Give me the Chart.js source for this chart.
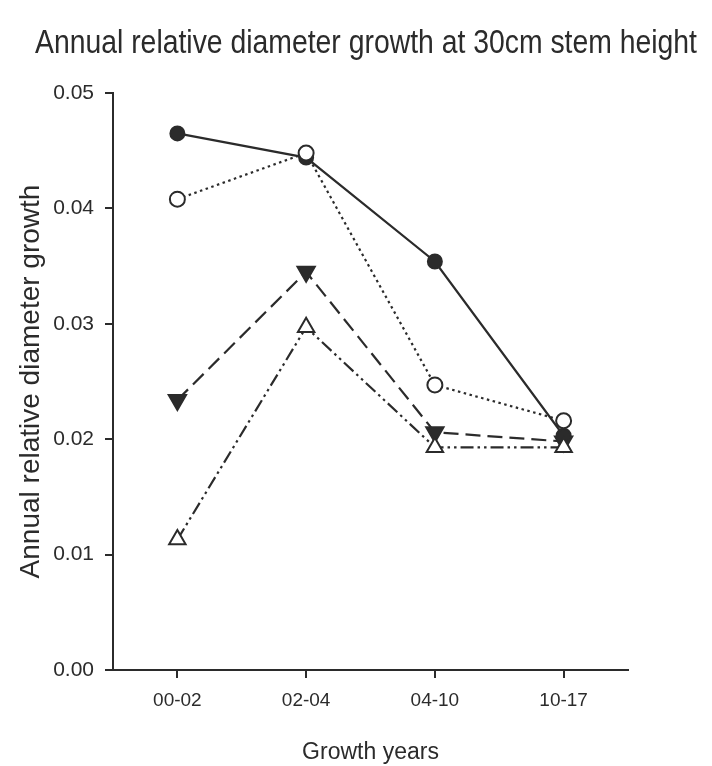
<!DOCTYPE html>
<html>
<head>
<meta charset="utf-8">
<title>Annual relative diameter growth</title>
<script src="https://cdn.jsdelivr.net/npm/chart.js@4.4.1/dist/chart.umd.min.js"></script>
<style>
  html, body { margin: 0; padding: 0; background: #ffffff; }
  #c { display: block; }
</style>
</head>
<body>
<canvas id="c" width="712" height="766"></canvas>
<script>
// Growth periods (years) on the x axis
const growthYears = ['00-02', '02-04', '04-10', '10-17'];

// Annual relative diameter growth per treatment
const filledCircles   = [0.0465, 0.0444, 0.0354, 0.0203];
const openCircles     = [0.0408, 0.0448, 0.0247, 0.0216];
const filledTriangles = [0.0234, 0.0345, 0.0206, 0.0198];
const openTriangles   = [0.0113, 0.0297, 0.0193, 0.0193];

// Y axis tick values
const yTicks = [0, 0.01, 0.02, 0.03, 0.04, 0.05];

const chartTitle = 'Annual relative diameter growth at 30cm stem height';
const ink = '#2b2b2b';
const sansFamily = '"Liberation Sans", Arial, sans-serif';

// Condensed title across the top, fitted to its width
const titlePlugin = {
  id: 'topTitle',
  afterDraw(chart) {
    const ctx = chart.ctx;
    const targetWidth = 662;
    ctx.save();
    ctx.font = '34px ' + sansFamily;
    const w = ctx.measureText(chartTitle).width;
    ctx.translate(366, 53);
    ctx.scale(targetWidth / w, 1);
    ctx.fillStyle = ink;
    ctx.textAlign = 'center';
    ctx.textBaseline = 'alphabetic';
    ctx.fillText(chartTitle, 0, 0);
    ctx.restore();
  }
};

const common = { borderColor: ink, borderWidth: 2.2, pointBorderWidth: 2, pointBorderColor: ink, tension: 0, fill: false };

new Chart(document.getElementById('c'), {
  type: 'line',
  data: {
    labels: growthYears,
    datasets: [
      Object.assign({}, common, {
        label: 'open circles', data: openCircles, order: 0,
        borderDash: [2.5, 3.5], pointStyle: 'circle', pointRadius: 7.5,
        pointBackgroundColor: '#ffffff'
      }),
      Object.assign({}, common, {
        label: 'open triangles', data: openTriangles, order: 1,
        borderDash: [13, 4, 2.5, 4, 2.5, 4], pointStyle: 'triangle', pointRadius: 9.5,
        pointBackgroundColor: '#ffffff'
      }),
      Object.assign({}, common, {
        label: 'filled circles', data: filledCircles, order: 2,
        pointStyle: 'circle', pointRadius: 7, pointBackgroundColor: ink
      }),
      Object.assign({}, common, {
        label: 'filled triangles', data: filledTriangles, order: 3,
        borderDash: [15, 7], pointStyle: 'triangle', pointRotation: 180, pointRadius: 10,
        pointBackgroundColor: ink
      })
    ]
  },
  options: {
    responsive: false,
    animation: false,
    devicePixelRatio: 1,
    layout: { padding: { top: 93, right: 84, bottom: 0, left: 0 } },
    plugins: {
      legend: { display: false },
      tooltip: { enabled: false },
      title: { display: false }
    },
    scales: {
      x: {
        type: 'category',
        offset: true,
        grid: { offset: false, drawOnChartArea: false, drawTicks: true, tickLength: 8, color: ink, lineWidth: 2 },
        border: { display: true, color: ink, width: 2 },
        ticks: {
          color: ink, padding: 11, maxRotation: 0,
          font: { family: sansFamily, size: 19, lineHeight: 1.2 }
        },
        title: {
          display: true, text: 'Growth years', color: ink,
          font: { family: sansFamily, size: 23, lineHeight: 1.2 },
          padding: { top: 0, bottom: 0 }
        },
        afterFit(scale) { scale.height = 96; }
      },
      y: {
        type: 'linear',
        min: 0, max: 0.05,
        grid: { drawOnChartArea: false, drawTicks: true, tickLength: 8, color: ink, lineWidth: 2 },
        border: { display: true, color: ink, width: 2 },
        afterBuildTicks(scale) { scale.ticks = yTicks.map(v => ({ value: v })); },
        ticks: {
          color: ink, padding: 11,
          font: { family: sansFamily, size: 21, lineHeight: 1.2 },
          callback: v => Number(v).toFixed(2)
        },
        title: {
          display: true, text: 'Annual relative diameter growth', color: ink,
          font: { family: sansFamily, size: 28, lineHeight: 1.2 },
          padding: { top: 14, bottom: 0 }
        },
        afterFit(scale) { scale.width = 113; }
      }
    }
  },
  plugins: [titlePlugin]
});
</script>
</body>
</html>
